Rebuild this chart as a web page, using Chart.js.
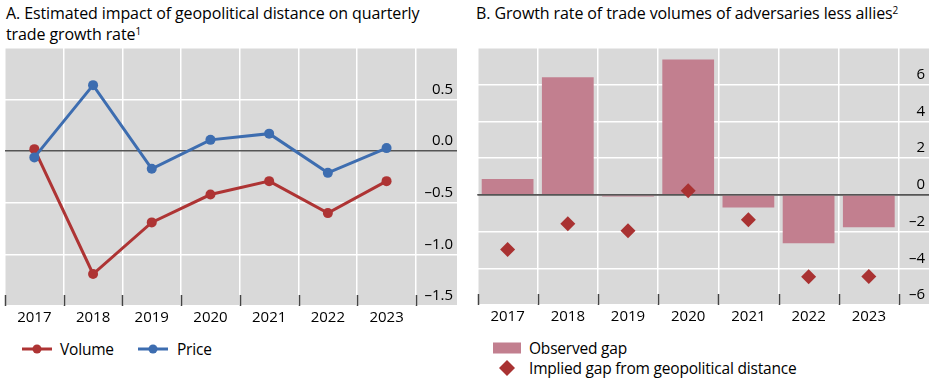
<!DOCTYPE html>
<html>
<head>
<meta charset="utf-8">
<script src="https://cdn.jsdelivr.net/npm/chart.js@4.4.1/dist/chart.umd.min.js"></script>
<style>
  html, body { margin:0; padding:0; background:#fff; }
  body { width:939px; height:384px; position:relative; overflow:hidden; font-family:'Open Sans', sans-serif; color:#000; }
  .title { position:absolute; font-size:16px; line-height:21px; white-space:nowrap; letter-spacing:-0.1px; }
  .title sup { font-size:10px; vertical-align:top; position:relative; top:-3px; }
  canvas { position:absolute; }
  .leg { position:absolute; font-size:15.5px; line-height:18px; white-space:nowrap; display:flex; align-items:center; letter-spacing:-0.2px; }
  .leg svg { display:block; }
</style>
</head>
<body>
<div class="title" style="left:6px; top:3px;">A. Estimated impact of geopolitical distance on quarterly<br>trade growth rate<sup>1</sup></div>
<div class="title" style="left:476px; top:3px;">B. Growth rate of trade volumes of adversaries less allies<sup>2</sup></div>

<canvas id="chartA" width="466" height="292" style="left:0; top:40px;"></canvas>
<canvas id="chartB" width="469" height="291" style="left:470px; top:40px;"></canvas>

<div class="leg" style="left:21px; top:340px;">
  <svg width="32" height="12"><line x1="1" y1="6" x2="31" y2="6" stroke="#ae3434" stroke-width="3"/><circle cx="16" cy="6" r="4.5" fill="#ae3434"/></svg>
  <span style="margin-left:7px;">Volume</span>
</div>
<div class="leg" style="left:137px; top:340px;">
  <svg width="32" height="12"><line x1="1" y1="6" x2="31" y2="6" stroke="#3d6db0" stroke-width="3"/><circle cx="16" cy="6" r="4.5" fill="#3d6db0"/></svg>
  <span style="margin-left:8px;">Price</span>
</div>
<div class="leg" style="left:493px; top:339px;">
  <svg width="28" height="12"><rect x="0" y="0.5" width="28" height="11" fill="#c27f8f"/></svg>
  <span style="margin-left:8px;">Observed gap</span>
</div>
<div class="leg" style="left:493px; top:359px;">
  <svg width="28" height="16"><polygon points="14,0 22,8 14,16 6,8" fill="#a93232"/></svg>
  <span style="margin-left:8px;">Implied gap from geopolitical distance</span>
</div>

<script>
// ---- data ----
const years = ['2017','2018','2019','2020','2021','2022','2023'];
const volume = [0.02, -1.19, -0.69, -0.42, -0.29, -0.60, -0.29];
const price = [-0.06, 0.64, -0.17, 0.11, 0.17, -0.21, 0.03];
const observedGap = [0.87, 6.40, -0.09, 7.37, -0.69, -2.64, -1.77];
const impliedGap = [-2.98, -1.57, -1.95, 0.22, -1.36, -4.46, -4.45];
const yTicksA = [-1.5, -1.0, -0.5, 0.0, 0.5, 1.0];
const yTicksB = [-6, -4, -2, 0, 2, 4, 6, 8];

// ---- helpers ----
const FONT = "'Open Sans', sans-serif";
const pts = arr => arr.map((v, i) => ({x: i, y: v}));
const isHalf = v => Math.abs(v - Math.round(v)) > 0.25;
const xTickVals = years.flatMap((y, i) => [i - 0.5, i]).concat([years.length - 0.5]);
const minus = s => s.replace('-', '\u2013');

const bgPlugin = {
  id: 'bg',
  beforeDraw(chart) {
    const {ctx, chartArea: a} = chart;
    ctx.save();
    ctx.fillStyle = '#d9d9d9';
    ctx.fillRect(a.left, a.top, a.right - a.left, a.bottom - a.top);
    ctx.restore();
  }
};
const tickMarkPlugin = {
  id: 'tickmarks',
  afterDatasetsDraw(chart) {
    const {ctx, chartArea: a} = chart;
    const xs = chart.scales.x;
    ctx.save();
    ctx.strokeStyle = '#444';
    ctx.lineWidth = 1.5;
    xTickVals.filter(isHalf).forEach(v => {
      const px = Math.round(xs.getPixelForValue(v)) + 0.5;
      ctx.beginPath();
      ctx.moveTo(px, a.bottom - 11);
      ctx.lineTo(px, a.bottom);
      ctx.stroke();
    });
    ctx.restore();
  }
};
const zeroOverBars = {
  id: 'zeroOverBars',
  afterDatasetDraw(chart, args) {
    if (args.meta.type !== 'bar') return;
    const {ctx, chartArea: a} = chart;
    const py = chart.scales.y.getPixelForValue(0);
    ctx.save();
    ctx.strokeStyle = '#555';
    ctx.lineWidth = 1.5;
    ctx.beginPath();
    ctx.moveTo(a.left, py);
    ctx.lineTo(a.right, py);
    ctx.stroke();
    ctx.restore();
  }
};

function xScale(max) {
  return {
    type: 'linear', min: -0.5, max: max, offset: false,
    afterBuildTicks(s) { s.ticks = xTickVals.map(v => ({value: v})); },
    afterFit(s) { s.paddingLeft = 0; s.paddingRight = 0; s.height = 26; },
    grid: {
      offset: false, drawTicks: false, lineWidth: 1.5,
      color: c => (c.tick && isHalf(c.tick.value)) ? '#ffffff' : 'rgba(0,0,0,0)'
    },
    border: {display: false},
    ticks: {
      autoSkip: false, maxRotation: 0, minRotation: 0, padding: 3,
      color: '#000', font: {family: FONT, size: 15},
      callback: v => Number.isInteger(v) && years[v] ? years[v] : ''
    }
  };
}
function yScale(min, max, tickVals, fmt) {
  return {
    type: 'linear', position: 'right', min: min, max: max,
    afterBuildTicks(s) { s.ticks = tickVals.map(v => ({value: v})); },
    afterFit(s) { s.paddingTop = 0; s.paddingBottom = 0; s.width = 0; },
    grid: {
      drawTicks: false, lineWidth: 1.5,
      color: c => (c.tick && c.tick.value === 0) ? '#555555' : '#ffffff'
    },
    border: {display: false},
    ticks: {
      mirror: true, padding: -4, labelOffset: -10,
      color: '#000', font: {family: FONT, size: 15},
      callback: v => v >= max ? '' : fmt(v)
    }
  };
}

Chart.defaults.font.family = FONT;

new Chart(document.getElementById('chartA'), {
  type: 'line',
  data: {
    datasets: [
      {label: 'Volume', data: pts(volume), borderColor: '#ae3434', backgroundColor: '#ae3434',
       borderWidth: 3, pointRadius: 5, pointBackgroundColor: '#ae3434', pointBorderWidth: 0, tension: 0, order: 1},
      {label: 'Price', data: pts(price), borderColor: '#3d6db0', backgroundColor: '#3d6db0',
       borderWidth: 3, pointRadius: 5, pointBackgroundColor: '#3d6db0', pointBorderWidth: 0, tension: 0, order: 0}
    ]
  },
  options: {
    responsive: false, animation: false, devicePixelRatio: 1,
    layout: {padding: {left: 5, right: 9, top: 8, bottom: 0}},
    plugins: {legend: {display: false}, tooltip: {enabled: false}},
    scales: {
      x: xScale(7.2),
      y: yScale(-1.5, 1.0, yTicksA, v => minus(v.toFixed(1)))
    }
  },
  plugins: [bgPlugin, tickMarkPlugin]
});

new Chart(document.getElementById('chartB'), {
  type: 'bar',
  data: {
    datasets: [
      {type: 'bar', label: 'Observed gap', data: pts(observedGap), backgroundColor: '#c27f8f',
       borderWidth: 0, categoryPercentage: 2, barPercentage: 0.86, order: 1},
      {type: 'line', label: 'Implied gap from geopolitical distance', data: pts(impliedGap), showLine: false,
       pointStyle: 'rectRot', pointRadius: 7.5, backgroundColor: '#a93232', pointBackgroundColor: '#a93232',
       pointBorderWidth: 0, borderWidth: 0, order: 0}
    ]
  },
  options: {
    responsive: false, animation: false, devicePixelRatio: 1,
    layout: {padding: {left: 7, right: 10, top: 8, bottom: 0}},
    plugins: {legend: {display: false}, tooltip: {enabled: false}},
    scales: {
      x: xScale(7.0),
      y: yScale(-6, 8, yTicksB, v => minus(String(v)))
    }
  },
  plugins: [bgPlugin, tickMarkPlugin, zeroOverBars]
});
</script>
</body>
</html>
